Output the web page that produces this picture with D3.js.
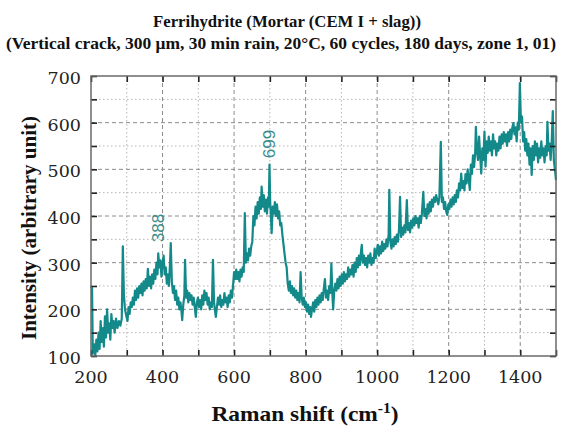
<!DOCTYPE html>
<html><head><meta charset="utf-8">
<script src="https://cdn.jsdelivr.net/npm/d3@7"></script>
<style>body{margin:0;background:#fff}svg{display:block}</style>
</head><body>
<svg id="chart" width="563" height="428"></svg>
<script>
const titleLines = ["Ferrihydrite (Mortar (CEM I + slag))",
  "(Vertical crack, 300 \u03bcm, 30 min rain, 20\u00b0C, 60 cycles, 180 days, zone 1, 01)"];
const xTicks = [200,400,600,800,1000,1200,1400];
const xMinorTicks = [300,500,700,900,1100,1300,1500];
const yTicks = [100,200,300,400,500,600,700];
const yMinorTicks = [150,250,350,450,550,650];
const peakLabels = [{x:388,y:318,label:"388"},{x:699,y:498,label:"699"}];
const spectrum = [
[200,250],[203,245],[205,105],[209,125],[212,100],[215,135],[218,110],[221,150],[224,115],[227,175],[230,130],[233,160],[236,120],[239,185],[242,140],[245,200],[248,150],[251,170],[254,135],[257,190],[260,160],[263,175],[266,150],[270,180],[274,160],[278,175],[282,165],[286,180],[289,335],[292,230],[295,200],[299,185],[302,175],[305,205],
[308,190],[311,215],[314,205],[317,225],[320,210],[323,240],[326,220],[329,245],[332,225],[335,250],[338,235],[341,255],[344,230],[347,260],[350,240],[353,265],[356,245],[359,287],[362,250],[365,270],[368,245],[371,275],[374,255],[377,285],[380,265],[383,300],[386,275],[388,320],[391,290],[394,305],[397,270],[400,300],[403,315],[406,275],[409,290],[412,255],[415,275],[418,250],[421,300],[423,342],[426,260],[429,235],[432,250],[435,220],[438,240],[441,210],[444,225],[447,200],[450,215],[453,195],[455,177],[458,210],[461,230],[463,306],[466,225],[469,240],[472,215],[475,235],[478,220],[481,230],[484,210],[487,225],[490,205],[493,184],[496,215],[499,225],[502,205],[505,220],[508,200],[511,230],[514,210],[517,240],[520,220],[523,235],[526,210],[529,225],[532,200],[535,215],[538,205],[541,306],[544,215],[547,195],[549,184],[552,205],[555,225],[558,210],[561,230],[564,205],[567,220],[570,210],[573,235],[576,215],[579,225],[582,205],[585,230],[588,215],[591,240],[594,225],[597,250],
[600,280],[603,265],[606,285],[609,265],[612,280],[615,260],[618,285],[621,270],[624,290],[627,280],[630,406],[633,300],[636,320],[639,305],[642,330],[645,315],[648,335],[651,345],[654,400],[657,380],[660,420],[663,395],[666,430],[669,405],[672,440],[675,415],[677,463],[680,420],[683,445],[686,410],[689,435],[692,405],[695,440],[697,420],[699,510],[701,430],[703,400],[705,363],[708,420],[711,405],[714,430],[717,400],[720,425],[723,395],[726,410],[729,380],[732,385],[735,360],[738,340],[741,320],[744,300],[747,290],[750,255],[753,240],[756,260],[759,235],[762,250],[765,230],[768,245],[771,225],[774,240],[777,220],[780,235],[783,215],[786,280],[789,225],[792,210],[795,225],[798,205],
[801,215],[804,195],[807,210],[810,190],[813,205],[815,184],[818,200],[821,215],[824,195],[827,220],[830,205],[833,225],[836,210],[839,230],[842,215],[845,235],[848,220],[851,245],[854,265],[857,225],[860,240],[863,220],[866,250],[869,235],[872,298],[875,230],[877,200],[880,240],[883,255],[886,240],[889,265],[892,245],[895,270],[898,250],[901,275],[904,255],[907,280],[910,260],[913,275],[916,265],[919,290],[922,270],[925,285],[928,275],[931,295],[934,270],[937,300],[940,280],[943,310],[946,290],[949,315],[952,295],[955,325],[957,338],[960,300],[963,315],[966,295],[969,310],[972,290],[975,315],[978,300],[981,320],[984,295],[987,310],[990,300],[993,330],[996,310],[999,325],
[1002,338],[1005,315],[1008,335],[1011,320],[1014,345],[1017,325],[1020,340],[1023,330],[1026,350],[1029,335],[1032,360],[1034,456],[1037,345],[1040,330],[1043,350],[1046,335],[1049,355],[1052,340],[1055,360],[1058,345],[1061,370],[1064,441],[1067,355],[1070,375],[1073,360],[1076,380],[1079,365],[1083,434],[1086,370],[1089,385],[1092,365],[1095,390],[1098,375],[1101,395],[1104,380],[1107,400],[1110,385],[1113,395],[1116,375],[1119,400],[1122,385],[1125,405],[1129,452],[1132,400],[1135,415],[1138,395],[1141,425],[1144,405],[1147,430],[1150,410],[1153,435],[1156,420],[1159,440],[1162,430],[1165,445],[1168,435],[1171,425],[1174,440],[1178,559],[1181,430],[1184,440],[1187,415],[1190,430],[1193,410],[1196,402],[1199,425],
[1202,415],[1205,435],[1208,420],[1211,440],[1214,425],[1217,445],[1220,430],[1223,455],[1226,440],[1229,470],[1232,455],[1235,491],[1238,460],[1241,475],[1244,455],[1247,490],[1250,470],[1253,500],[1256,480],[1259,456],[1262,510],[1265,490],[1268,530],[1271,505],[1274,535],[1276,591],[1279,540],[1282,520],[1285,570],[1288,530],[1291,491],[1294,545],[1297,520],[1300,581],[1303,506],[1306,560],[1309,535],[1312,570],[1315,540],[1318,560],[1321,530],[1324,575],[1327,545],[1330,560],[1333,530],[1336,555],[1339,540],[1342,570],[1345,545],[1348,575],[1351,555],[1354,580],[1357,560],[1360,575],[1363,550],[1366,580],[1369,560],[1372,585],[1375,565],[1378,590],[1381,599],[1384,575],[1387,590],[1390,560],[1393,600],[1396,585],[1399,685],
[1402,600],[1405,613],[1408,560],[1411,580],[1414,540],[1417,565],[1420,530],[1423,555],[1426,510],[1429,545],[1432,488],[1435,550],[1438,520],[1441,560],[1444,530],[1447,555],[1450,515],[1453,545],[1456,525],[1459,560],[1462,530],[1465,545],[1468,515],[1471,550],[1474,530],[1476,602],[1479,540],[1482,555],[1485,520],[1488,560],[1491,625],[1494,520],[1497,500],[1500,477]
];

const svg = d3.select("#chart");
const m = {left:91, right:556, top:76, bottom:356};
const x = d3.scaleLinear().domain([200,1500]).range([m.left, m.right]);
const y = d3.scaleLinear().domain([100,700]).range([m.bottom, m.top]);
const teal = "#14898a";

// grid
const g = svg.append("g");
g.selectAll(".gxm").data(xMinorTicks.filter(d=>d<1500)).enter().append("line")
  .attr("x1",d=>x(d)).attr("x2",d=>x(d)).attr("y1",m.top).attr("y2",m.bottom)
  .attr("stroke","#b5b5b5").attr("stroke-width",1).attr("stroke-dasharray","1.5,2.5");
g.selectAll(".gym").data(yMinorTicks).enter().append("line")
  .attr("y1",d=>y(d)).attr("y2",d=>y(d)).attr("x1",m.left).attr("x2",m.right)
  .attr("stroke","#b5b5b5").attr("stroke-width",1).attr("stroke-dasharray","1.5,2.5");
g.selectAll(".gx").data(xTicks.filter(d=>d>200)).enter().append("line")
  .attr("x1",d=>x(d)).attr("x2",d=>x(d)).attr("y1",m.top).attr("y2",m.bottom)
  .attr("stroke","#8c8c8c").attr("stroke-width",1).attr("stroke-dasharray","4,3");
g.selectAll(".gy").data(yTicks.filter(d=>d>100&&d<700)).enter().append("line")
  .attr("y1",d=>y(d)).attr("y2",d=>y(d)).attr("x1",m.left).attr("x2",m.right)
  .attr("stroke","#8c8c8c").attr("stroke-width",1).attr("stroke-dasharray","4,3");

// line
const line = d3.line().x(d=>x(d[0])).y(d=>y(d[1]));
svg.append("path").datum(spectrum).attr("d",line)
  .attr("fill","none").attr("stroke",teal).attr("stroke-width",2.2).attr("stroke-linejoin","round");

// axes (inward ticks)
const allX = xTicks.concat(xMinorTicks).sort((a,b)=>a-b);
const allY = yTicks.concat(yMinorTicks).sort((a,b)=>a-b);
svg.append("g").attr("transform",`translate(0,${m.bottom})`)
  .call(d3.axisBottom(x).tickValues(allX).tickSizeInner(-6).tickSizeOuter(0).tickFormat(""))
  .call(s=>s.select(".domain").remove());
svg.append("g").attr("transform",`translate(0,${m.top})`)
  .call(d3.axisTop(x).tickValues(allX).tickSizeInner(-6).tickSizeOuter(0).tickFormat(""))
  .call(s=>s.select(".domain").remove());
svg.append("g").attr("transform",`translate(${m.left},0)`)
  .call(d3.axisLeft(y).tickValues(allY).tickSizeInner(-6).tickSizeOuter(0).tickFormat(""))
  .call(s=>s.select(".domain").remove());
svg.append("g").attr("transform",`translate(${m.right},0)`)
  .call(d3.axisRight(y).tickValues(allY).tickSizeInner(-6).tickSizeOuter(0).tickFormat(""))
  .call(s=>s.select(".domain").remove());
svg.selectAll(".tick line").attr("stroke","#222").attr("stroke-width",1.6);

svg.append("rect").attr("x",m.left).attr("y",m.top).attr("width",m.right-m.left).attr("height",m.bottom-m.top)
  .attr("fill","none").attr("stroke","#6a6a6a").attr("stroke-width",1.5);

// tick labels
const serif = "'DejaVu Serif', serif";
svg.selectAll(".xl").data(xTicks).enter().append("text")
  .attr("x",d=>x(d)).attr("y",383).attr("text-anchor","middle")
  .attr("font-family",serif).attr("font-size",17.5).attr("fill","#222").text(d=>d);
svg.selectAll(".yl").data(yTicks).enter().append("text")
  .attr("x",81).attr("y",d=>y(d)+8).attr("text-anchor","end")
  .attr("font-family",serif).attr("font-size",17.5).attr("fill","#222").text(d=>d);

// titles
const tserif = "'Liberation Serif', serif";
svg.append("text").attr("x",287).attr("y",27).attr("text-anchor","middle")
  .attr("font-family",tserif).attr("font-weight","bold").attr("font-size",16.5).attr("fill","#111")
  .attr("textLength",268).attr("lengthAdjust","spacingAndGlyphs")
  .text(titleLines[0]);
svg.append("text").attr("x",281).attr("y",49).attr("text-anchor","middle")
  .attr("font-family",tserif).attr("font-weight","bold").attr("font-size",16.5).attr("fill","#111")
  .attr("textLength",550).attr("lengthAdjust","spacingAndGlyphs")
  .text(titleLines[1]);

// axis titles
const xt = svg.append("g").attr("transform","translate(305,421) scale(1.115,1)")
  .append("text").attr("x",0).attr("y",0).attr("text-anchor","middle")
  .attr("font-family",tserif).attr("font-weight","bold").attr("font-size",21).attr("fill","#111");
xt.append("tspan").text("Raman shift (cm");
xt.append("tspan").attr("dy",-8).attr("font-size",14).text("-1");
xt.append("tspan").attr("dy",8).text(")");
svg.append("text").attr("transform","translate(36,228) rotate(-90)").attr("text-anchor","middle")
  .attr("font-family",tserif).attr("font-weight","bold").attr("font-size",21).attr("fill","#111")
  .text("Intensity (arbitrary unit)");

// peak labels
svg.selectAll(".pk").data(peakLabels).enter().append("text")
  .attr("transform",d=>`translate(${x(d.x)+6},${y(d.y)-12}) rotate(-90)`)
  .attr("font-family","'Liberation Sans', Arial, sans-serif").attr("font-size",17).attr("fill","#3b8e8b")
  .text(d=>d.label);
</script>
</body></html>
